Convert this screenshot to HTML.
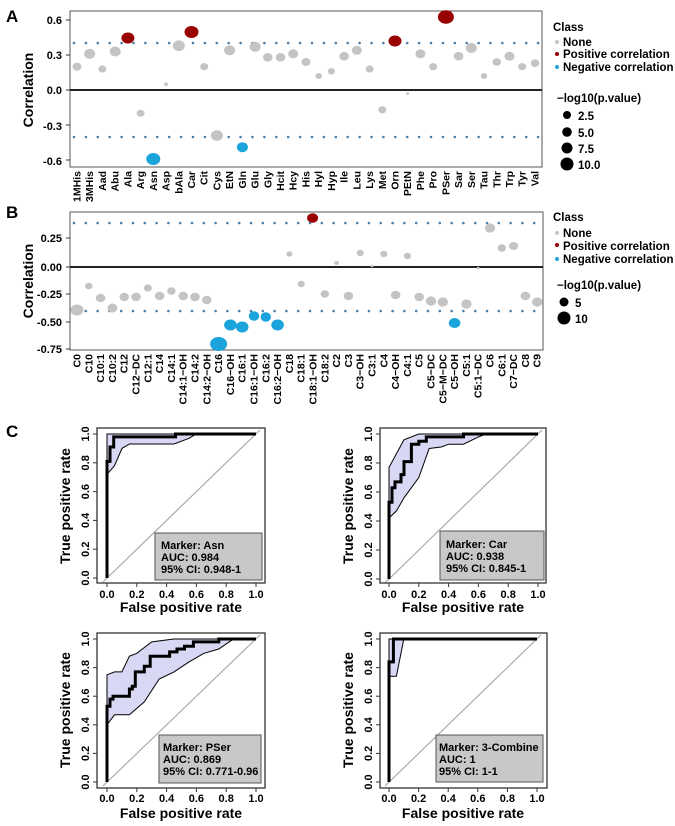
<!DOCTYPE html>
<html><head><meta charset="utf-8"><style>
body{margin:0;background:#fff}
svg{display:block;font-family:"Liberation Sans",Arial,sans-serif;font-weight:bold}
</style></head><body>
<svg width="675" height="826" viewBox="0 0 675 826" xmlns="http://www.w3.org/2000/svg">
<!-- Panel A -->
<text x="6" y="22" font-size="17">A</text>
<rect x="70" y="11" width="472" height="156" fill="none" stroke="#555" stroke-width="1"/>
<line x1="70" y1="90" x2="542" y2="90" stroke="#222" stroke-width="2"/>
<line x1="74" y1="43" x2="540" y2="43" stroke="#4a7ea8" stroke-width="2.6" stroke-linecap="round" stroke-dasharray="0 11.9"/>
<line x1="74" y1="137" x2="540" y2="137" stroke="#4a7ea8" stroke-width="2.6" stroke-linecap="round" stroke-dasharray="0 11.9"/>
<g font-size="11" text-anchor="end">
<text x="62" y="24">0.6</text><text x="62" y="59">0.3</text><text x="62" y="94">0.0</text><text x="62" y="130">-0.3</text><text x="62" y="165">-0.6</text>
</g>
<g stroke="#333"><line x1="66" y1="20" x2="70" y2="20"/><line x1="66" y1="55" x2="70" y2="55"/><line x1="66" y1="90" x2="70" y2="90"/><line x1="66" y1="125" x2="70" y2="125"/><line x1="66" y1="160" x2="70" y2="160"/></g>
<text transform="translate(33,90) rotate(-90)" font-size="14" text-anchor="middle">Correlation</text>
<g fill="#c4c4c4">
<ellipse cx="77" cy="66.7" rx="4.5" ry="4"/><ellipse cx="89.7" cy="53.8" rx="5.5" ry="5"/><ellipse cx="102.4" cy="69" rx="4" ry="3.6"/><ellipse cx="115.2" cy="51.5" rx="5.5" ry="5"/>
<ellipse cx="140.6" cy="113.3" rx="4" ry="3.5"/><ellipse cx="166" cy="84.2" rx="2" ry="1.8"/><ellipse cx="178.8" cy="45.7" rx="6" ry="5.3"/>
<ellipse cx="204.2" cy="66.7" rx="4" ry="3.6"/><ellipse cx="216.9" cy="135.5" rx="6" ry="5.3"/><ellipse cx="229.6" cy="50.3" rx="5.5" ry="5"/>
<ellipse cx="255.1" cy="46.8" rx="5.5" ry="5"/><ellipse cx="267.8" cy="57.3" rx="4.8" ry="4.3"/><ellipse cx="280.5" cy="57.3" rx="4.8" ry="4.3"/><ellipse cx="293.2" cy="53.8" rx="5" ry="4.5"/>
<ellipse cx="306" cy="62" rx="4.5" ry="4"/><ellipse cx="318.7" cy="76" rx="3.3" ry="3"/><ellipse cx="331.4" cy="71.3" rx="3.5" ry="3.2"/><ellipse cx="344.1" cy="56.2" rx="4.8" ry="4.3"/>
<ellipse cx="356.8" cy="50.3" rx="5" ry="4.5"/><ellipse cx="369.6" cy="69" rx="4" ry="3.6"/><ellipse cx="382.3" cy="109.8" rx="4" ry="3.6"/><ellipse cx="407.7" cy="93.5" rx="1.6" ry="1.4"/>
<ellipse cx="420.4" cy="53.8" rx="5" ry="4.5"/><ellipse cx="433.2" cy="66.7" rx="4" ry="3.6"/><ellipse cx="458.6" cy="56.2" rx="4.8" ry="4.3"/><ellipse cx="471.3" cy="48" rx="5.5" ry="5"/>
<ellipse cx="484" cy="76" rx="3.3" ry="3"/><ellipse cx="496.8" cy="62" rx="4.3" ry="3.8"/><ellipse cx="509.5" cy="56.2" rx="5" ry="4.5"/><ellipse cx="522.2" cy="66.7" rx="4" ry="3.6"/><ellipse cx="535" cy="63.2" rx="4.3" ry="3.8"/>
</g>
<g fill="#990000">
<ellipse cx="127.9" cy="38" rx="6.5" ry="5.5"/><ellipse cx="191.5" cy="32" rx="7" ry="6"/><ellipse cx="395" cy="41" rx="6.5" ry="5.5"/><ellipse cx="445.9" cy="17" rx="8" ry="6.8"/>
</g>
<g fill="#1ba3dc">
<ellipse cx="153.3" cy="159" rx="7" ry="6"/><ellipse cx="242.4" cy="147.2" rx="5.5" ry="5"/>
</g>
<g font-size="10.5" text-anchor="end">
<text transform="translate(80.5,171) rotate(-90)">1MHis</text><text transform="translate(93.2,171) rotate(-90)">3MHis</text><text transform="translate(105.9,171) rotate(-90)">Aad</text><text transform="translate(118.7,171) rotate(-90)">Abu</text>
<text transform="translate(131.4,171) rotate(-90)">Ala</text><text transform="translate(144.1,171) rotate(-90)">Arg</text><text transform="translate(156.8,171) rotate(-90)">Asn</text><text transform="translate(169.5,171) rotate(-90)">Asp</text>
<text transform="translate(182.3,171) rotate(-90)">bAla</text><text transform="translate(195,171) rotate(-90)">Car</text><text transform="translate(207.7,171) rotate(-90)">Cit</text><text transform="translate(220.4,171) rotate(-90)">Cys</text>
<text transform="translate(233.1,171) rotate(-90)">EtN</text><text transform="translate(245.9,171) rotate(-90)">Gln</text><text transform="translate(258.6,171) rotate(-90)">Glu</text><text transform="translate(271.3,171) rotate(-90)">Gly</text>
<text transform="translate(284,171) rotate(-90)">Hcit</text><text transform="translate(296.7,171) rotate(-90)">Hcy</text><text transform="translate(309.5,171) rotate(-90)">His</text><text transform="translate(322.2,171) rotate(-90)">Hyl</text>
<text transform="translate(334.9,171) rotate(-90)">Hyp</text><text transform="translate(347.6,171) rotate(-90)">Ile</text><text transform="translate(360.3,171) rotate(-90)">Leu</text><text transform="translate(373.1,171) rotate(-90)">Lys</text>
<text transform="translate(385.8,171) rotate(-90)">Met</text><text transform="translate(398.5,171) rotate(-90)">Orn</text><text transform="translate(411.2,171) rotate(-90)">PEtN</text><text transform="translate(423.9,171) rotate(-90)">Phe</text>
<text transform="translate(436.7,171) rotate(-90)">Pro</text><text transform="translate(449.4,171) rotate(-90)">PSer</text><text transform="translate(462.1,171) rotate(-90)">Sar</text><text transform="translate(474.8,171) rotate(-90)">Ser</text>
<text transform="translate(487.5,171) rotate(-90)">Tau</text><text transform="translate(500.3,171) rotate(-90)">Thr</text><text transform="translate(513,171) rotate(-90)">Trp</text><text transform="translate(525.7,171) rotate(-90)">Tyr</text><text transform="translate(538.5,171) rotate(-90)">Val</text>
</g>
<g font-size="11.5">
<text x="553" y="31">Class</text>
<circle cx="557" cy="42" r="2" fill="#c4c4c4"/><text x="563" y="46">None</text>
<circle cx="557" cy="54" r="2" fill="#990000"/><text x="563" y="58">Positive correlation</text>
<circle cx="557" cy="67" r="2" fill="#1ba3dc"/><text x="563" y="71">Negative correlation</text>
<text x="557" y="102">−log10(p.value)</text>
<circle cx="567" cy="115" r="4" fill="#000"/><text x="578" y="120">2.5</text>
<circle cx="567" cy="132" r="4.8" fill="#000"/><text x="578" y="137">5.0</text>
<circle cx="567" cy="148" r="5.5" fill="#000"/><text x="578" y="153">7.5</text>
<circle cx="567" cy="164" r="6.5" fill="#000"/><text x="578" y="169">10.0</text>
</g>

<!-- Panel B -->
<text x="6" y="218" font-size="17">B</text>
<rect x="70" y="212" width="473" height="138" fill="none" stroke="#555" stroke-width="1"/>
<line x1="70" y1="267" x2="543" y2="267" stroke="#222" stroke-width="2"/>
<line x1="74" y1="223" x2="541" y2="223" stroke="#4a7ea8" stroke-width="2.6" stroke-linecap="round" stroke-dasharray="0 11.8"/>
<line x1="74" y1="311" x2="541" y2="311" stroke="#4a7ea8" stroke-width="2.6" stroke-linecap="round" stroke-dasharray="0 11.8"/>
<g font-size="11" text-anchor="end">
<text x="62" y="242">0.25</text><text x="62" y="271">0.00</text><text x="62" y="298">-0.25</text><text x="62" y="326">-0.50</text><text x="62" y="353">-0.75</text>
</g>
<g stroke="#333"><line x1="66" y1="238" x2="70" y2="238"/><line x1="66" y1="267" x2="70" y2="267"/><line x1="66" y1="294" x2="70" y2="294"/><line x1="66" y1="322" x2="70" y2="322"/><line x1="66" y1="349" x2="70" y2="349"/></g>
<text transform="translate(33,281) rotate(-90)" font-size="14" text-anchor="middle">Correlation</text>
<g fill="#c4c4c4">
<ellipse cx="77" cy="310" rx="6.5" ry="5.5"/><ellipse cx="88.8" cy="286" rx="3.8" ry="3.3"/><ellipse cx="100.6" cy="298" rx="4.8" ry="4.2"/><ellipse cx="112.4" cy="308" rx="5" ry="4.5"/>
<ellipse cx="124.2" cy="297" rx="4.8" ry="4.2"/><ellipse cx="136" cy="297" rx="4.8" ry="4.2"/><ellipse cx="147.8" cy="288" rx="4" ry="3.6"/><ellipse cx="159.6" cy="296" rx="4.8" ry="4.2"/>
<ellipse cx="171.4" cy="291" rx="4.2" ry="3.8"/><ellipse cx="183.2" cy="296" rx="4.8" ry="4.2"/><ellipse cx="195" cy="297" rx="4.8" ry="4.2"/><ellipse cx="206.8" cy="300" rx="4.8" ry="4.2"/>
<ellipse cx="289.4" cy="254" rx="3" ry="2.7"/><ellipse cx="301.2" cy="284" rx="3.6" ry="3.2"/><ellipse cx="324.8" cy="294" rx="4.2" ry="3.8"/><ellipse cx="336.6" cy="263" rx="2.4" ry="2.1"/>
<ellipse cx="348.4" cy="296" rx="4.8" ry="4.2"/><ellipse cx="360.2" cy="253" rx="3.6" ry="3.2"/><ellipse cx="372" cy="266" rx="1.5" ry="1.3"/><ellipse cx="383.8" cy="254" rx="3.6" ry="3.2"/>
<ellipse cx="395.6" cy="295" rx="4.8" ry="4.2"/><ellipse cx="407.4" cy="256" rx="3.6" ry="3.2"/><ellipse cx="419.2" cy="297" rx="4.8" ry="4.2"/><ellipse cx="431" cy="301" rx="5.2" ry="4.6"/>
<ellipse cx="442.8" cy="302" rx="5.2" ry="4.6"/><ellipse cx="466.4" cy="304" rx="5.2" ry="4.6"/><ellipse cx="478.2" cy="268" rx="1.5" ry="1.3"/><ellipse cx="490" cy="228" rx="5.2" ry="4.6"/>
<ellipse cx="501.8" cy="248" rx="4.2" ry="3.8"/><ellipse cx="513.6" cy="246" rx="4.6" ry="4"/><ellipse cx="525.4" cy="296" rx="4.8" ry="4.2"/><ellipse cx="537.2" cy="302" rx="5.2" ry="4.6"/>
</g>
<ellipse cx="312.6" cy="218" rx="5.5" ry="4.8" fill="#990000"/>
<g fill="#1ba3dc">
<ellipse cx="218.6" cy="344" rx="8.5" ry="7"/><ellipse cx="230.4" cy="325" rx="6.3" ry="5.5"/><ellipse cx="242.2" cy="327" rx="6.3" ry="5.5"/><ellipse cx="254" cy="316" rx="5.2" ry="4.7"/>
<ellipse cx="265.8" cy="317" rx="5.2" ry="4.7"/><ellipse cx="277.6" cy="325" rx="6.3" ry="5.5"/><ellipse cx="454.6" cy="323" rx="5.8" ry="5"/>
</g>
<g font-size="10.5" text-anchor="end">
<text transform="translate(80.5,354) rotate(-90)">C0</text><text transform="translate(92.3,354) rotate(-90)">C10</text><text transform="translate(104.1,354) rotate(-90)">C10:1</text><text transform="translate(115.9,354) rotate(-90)">C10:2</text>
<text transform="translate(127.7,354) rotate(-90)">C12</text><text transform="translate(139.5,354) rotate(-90)">C12−DC</text><text transform="translate(151.3,354) rotate(-90)">C12:1</text><text transform="translate(163.1,354) rotate(-90)">C14</text>
<text transform="translate(174.9,354) rotate(-90)">C14:1</text><text transform="translate(186.7,354) rotate(-90)">C14:1−OH</text><text transform="translate(198.5,354) rotate(-90)">C14:2</text><text transform="translate(210.3,354) rotate(-90)">C14:2−OH</text>
<text transform="translate(222.1,354) rotate(-90)">C16</text><text transform="translate(233.9,354) rotate(-90)">C16−OH</text><text transform="translate(245.7,354) rotate(-90)">C16:1</text><text transform="translate(257.5,354) rotate(-90)">C16:1−OH</text>
<text transform="translate(269.3,354) rotate(-90)">C16:2</text><text transform="translate(281.1,354) rotate(-90)">C16:2−OH</text><text transform="translate(292.9,354) rotate(-90)">C18</text><text transform="translate(304.7,354) rotate(-90)">C18:1</text>
<text transform="translate(316.5,354) rotate(-90)">C18:1−OH</text><text transform="translate(328.3,354) rotate(-90)">C18:2</text><text transform="translate(340.1,354) rotate(-90)">C2</text><text transform="translate(351.9,354) rotate(-90)">C3</text>
<text transform="translate(363.7,354) rotate(-90)">C3−OH</text><text transform="translate(375.5,354) rotate(-90)">C3:1</text><text transform="translate(387.3,354) rotate(-90)">C4</text><text transform="translate(399.1,354) rotate(-90)">C4−OH</text>
<text transform="translate(410.9,354) rotate(-90)">C4:1</text><text transform="translate(422.7,354) rotate(-90)">C5</text><text transform="translate(434.5,354) rotate(-90)">C5−DC</text><text transform="translate(446.3,354) rotate(-90)">C5−M−DC</text>
<text transform="translate(458.1,354) rotate(-90)">C5−OH</text><text transform="translate(469.9,354) rotate(-90)">C5:1</text><text transform="translate(481.7,354) rotate(-90)">C5:1−DC</text><text transform="translate(493.5,354) rotate(-90)">C6</text>
<text transform="translate(505.3,354) rotate(-90)">C6:1</text><text transform="translate(517.1,354) rotate(-90)">C7−DC</text><text transform="translate(528.9,354) rotate(-90)">C8</text><text transform="translate(540.7,354) rotate(-90)">C9</text>
</g>
<g font-size="11.5">
<text x="553" y="221">Class</text>
<circle cx="557" cy="233" r="2" fill="#c4c4c4"/><text x="563" y="237">None</text>
<circle cx="557" cy="245" r="2" fill="#990000"/><text x="563" y="250">Positive correlation</text>
<circle cx="557" cy="259" r="2" fill="#1ba3dc"/><text x="563" y="263">Negative correlation</text>
<text x="557" y="289">−log10(p.value)</text>
<circle cx="564" cy="302" r="4.5" fill="#000"/><text x="575" y="307">5</text>
<circle cx="564" cy="318" r="6.5" fill="#000"/><text x="575" y="323">10</text>
</g>

<!-- Panel C -->
<text x="6" y="437" font-size="17">C</text>

<!-- ROC 1 -->
<g>
<polygon points="107,434 256,434 196.4,434 189,438.3 174,444 129.4,444 122,448.4 114.5,465.7 107,474.3" fill="#d8d8f5" stroke="#000" stroke-width="1"/>
<line x1="103" y1="582" x2="260" y2="430" stroke="#aaa" stroke-width="1.2"/>
<polyline points="107,578 107,461.4 110,461.4 110,447 113.7,447 113.7,436.9 175.5,436.9 175.5,434 256,434" fill="none" stroke="#000" stroke-width="3"/>
<rect x="97" y="428" width="168" height="155" fill="none" stroke="#333" stroke-width="1.3"/>
<rect x="155" y="533" width="107" height="47" fill="#c8c8c8" stroke="#555"/>
<text x="161" y="549" font-size="11">Marker: Asn</text><text x="161" y="561" font-size="11">AUC: 0.984</text><text x="161" y="573" font-size="11">95% CI: 0.948-1</text>
<g stroke="#333"><line x1="93" y1="434" x2="97" y2="434"/><line x1="93" y1="462.8" x2="97" y2="462.8"/><line x1="93" y1="491.6" x2="97" y2="491.6"/><line x1="93" y1="520.4" x2="97" y2="520.4"/><line x1="93" y1="549.2" x2="97" y2="549.2"/><line x1="93" y1="578" x2="97" y2="578"/>
<line x1="107" y1="583" x2="107" y2="587"/><line x1="136.8" y1="583" x2="136.8" y2="587"/><line x1="166.6" y1="583" x2="166.6" y2="587"/><line x1="196.4" y1="583" x2="196.4" y2="587"/><line x1="226.2" y1="583" x2="226.2" y2="587"/><line x1="256" y1="583" x2="256" y2="587"/></g>
<g font-size="11" text-anchor="middle">
<text transform="translate(89,434) rotate(-90)">1.0</text><text transform="translate(89,462.8) rotate(-90)">0.8</text><text transform="translate(89,491.6) rotate(-90)">0.6</text><text transform="translate(89,520.4) rotate(-90)">0.4</text><text transform="translate(89,549.2) rotate(-90)">0.2</text><text transform="translate(89,578) rotate(-90)">0.0</text>
<text x="107" y="598">0.0</text><text x="136.8" y="598">0.2</text><text x="166.6" y="598">0.4</text><text x="196.4" y="598">0.6</text><text x="226.2" y="598">0.8</text><text x="256" y="598">1.0</text>
</g>
<text x="181" y="612" font-size="14" text-anchor="middle">False positive rate</text>
<text transform="translate(70,506) rotate(-90)" font-size="14" text-anchor="middle">True positive rate</text>
</g>

<!-- ROC 2 -->
<g>
<polygon points="389,467.4 404,439.8 418.8,434 538,434 485.9,434 478.4,436.9 463.5,444.2 448.6,444.2 441.2,447 429.2,448.5 418.8,477.5 404,497.8 396.5,510.9 389,518" fill="#d8d8f5" stroke="#000" stroke-width="1"/>
<line x1="385" y1="583" x2="542" y2="430" stroke="#aaa" stroke-width="1.2"/>
<polyline points="389,579 389,502.2 392,502.2 392,487.7 395,487.7 395,481.9 401,481.9 401,474.6 404,474.6 404,461.6 411.4,461.6 411.4,444.2 418.8,444.2 418.8,441.3 426.3,441.3 426.3,436.9 463.5,436.9 463.5,434 538,434" fill="none" stroke="#000" stroke-width="3"/>
<rect x="380" y="428" width="166" height="155" fill="none" stroke="#333" stroke-width="1.3"/>
<rect x="440" y="531" width="104" height="49" fill="#c8c8c8" stroke="#555"/>
<text x="446" y="548" font-size="11">Marker: Car</text><text x="446" y="560" font-size="11">AUC: 0.938</text><text x="446" y="572" font-size="11">95% CI: 0.845-1</text>
<g stroke="#333"><line x1="376" y1="434" x2="380" y2="434"/><line x1="376" y1="463" x2="380" y2="463"/><line x1="376" y1="492" x2="380" y2="492"/><line x1="376" y1="521" x2="380" y2="521"/><line x1="376" y1="550" x2="380" y2="550"/><line x1="376" y1="579" x2="380" y2="579"/>
<line x1="389" y1="583" x2="389" y2="587"/><line x1="418.8" y1="583" x2="418.8" y2="587"/><line x1="448.6" y1="583" x2="448.6" y2="587"/><line x1="478.4" y1="583" x2="478.4" y2="587"/><line x1="508.2" y1="583" x2="508.2" y2="587"/><line x1="538" y1="583" x2="538" y2="587"/></g>
<g font-size="11" text-anchor="middle">
<text transform="translate(372,434) rotate(-90)">1.0</text><text transform="translate(372,463) rotate(-90)">0.8</text><text transform="translate(372,492) rotate(-90)">0.6</text><text transform="translate(372,521) rotate(-90)">0.4</text><text transform="translate(372,550) rotate(-90)">0.2</text><text transform="translate(372,579) rotate(-90)">0.0</text>
<text x="389" y="598">0.0</text><text x="418.8" y="598">0.2</text><text x="448.6" y="598">0.4</text><text x="478.4" y="598">0.6</text><text x="508.2" y="598">0.8</text><text x="538" y="598">1.0</text>
</g>
<text x="463" y="612" font-size="14" text-anchor="middle">False positive rate</text>
<text transform="translate(353,506) rotate(-90)" font-size="14" text-anchor="middle">True positive rate</text>
</g>

<!-- ROC 3 -->
<g>
<polygon points="107,674.8 114.5,671.9 121.9,671.9 129.4,656.2 136.8,653.3 151.7,641.9 174,639 256,639 233.7,639 229.2,641.9 218.8,649 203.9,653.3 189,661.9 174,671.9 159.2,679 144.3,701.9 129.4,714.8 114.5,714.8 107,724.8" fill="#d8d8f5" stroke="#000" stroke-width="1"/>
<line x1="103" y1="786" x2="260" y2="635" stroke="#aaa" stroke-width="1.2"/>
<polyline points="107,782 107,706.2 110,706.2 110,699.1 113,699.1 113,696.2 129.4,696.2 129.4,689 132.3,689 132.3,686.2 135.3,686.2 135.3,671.9 144.3,671.9 144.3,666.2 150.2,666.2 150.2,656.2 169.6,656.2 169.6,651.9 177,651.9 177,649 184.5,649 184.5,646.2 193.4,646.2 193.4,641.9 218.8,641.9 218.8,639 256,639" fill="none" stroke="#000" stroke-width="3"/>
<rect x="97" y="633" width="168" height="155" fill="none" stroke="#333" stroke-width="1.3"/>
<rect x="159" y="735" width="102" height="48" fill="#c8c8c8" stroke="#555"/>
<text x="163" y="751" font-size="11">Marker: PSer</text><text x="163" y="763" font-size="11">AUC: 0.869</text><text x="163" y="775" font-size="11">95% CI: 0.771-0.96</text>
<g stroke="#333"><line x1="93" y1="639" x2="97" y2="639"/><line x1="93" y1="667.6" x2="97" y2="667.6"/><line x1="93" y1="696.2" x2="97" y2="696.2"/><line x1="93" y1="724.8" x2="97" y2="724.8"/><line x1="93" y1="753.4" x2="97" y2="753.4"/><line x1="93" y1="782" x2="97" y2="782"/>
<line x1="107" y1="788" x2="107" y2="792"/><line x1="136.8" y1="788" x2="136.8" y2="792"/><line x1="166.6" y1="788" x2="166.6" y2="792"/><line x1="196.4" y1="788" x2="196.4" y2="792"/><line x1="226.2" y1="788" x2="226.2" y2="792"/><line x1="256" y1="788" x2="256" y2="792"/></g>
<g font-size="11" text-anchor="middle">
<text transform="translate(89,639) rotate(-90)">1.0</text><text transform="translate(89,667.6) rotate(-90)">0.8</text><text transform="translate(89,696.2) rotate(-90)">0.6</text><text transform="translate(89,724.8) rotate(-90)">0.4</text><text transform="translate(89,753.4) rotate(-90)">0.2</text><text transform="translate(89,782) rotate(-90)">0.0</text>
<text x="107" y="802">0.0</text><text x="136.8" y="802">0.2</text><text x="166.6" y="802">0.4</text><text x="196.4" y="802">0.6</text><text x="226.2" y="802">0.8</text><text x="256" y="802">1.0</text>
</g>
<text x="181" y="818" font-size="14" text-anchor="middle">False positive rate</text>
<text transform="translate(70,710) rotate(-90)" font-size="14" text-anchor="middle">True positive rate</text>
</g>

<!-- ROC 4 -->
<g>
<polygon points="389,639 537,639 403.8,639 396.4,676.2 389,676.2" fill="#d8d8f5" stroke="#000" stroke-width="1"/>
<line x1="385" y1="786" x2="541" y2="635" stroke="#aaa" stroke-width="1.2"/>
<polyline points="389,782 389,661.9 393.4,661.9 393.4,639 537,639" fill="none" stroke="#000" stroke-width="3"/>
<rect x="380" y="633" width="167" height="155" fill="none" stroke="#333" stroke-width="1.3"/>
<rect x="436" y="735" width="107" height="47" fill="#c8c8c8" stroke="#555"/>
<text x="439" y="751" font-size="11">Marker: 3-Combine</text><text x="439" y="763" font-size="11">AUC: 1</text><text x="439" y="775" font-size="11">95% CI: 1-1</text>
<g stroke="#333"><line x1="376" y1="639" x2="380" y2="639"/><line x1="376" y1="667.6" x2="380" y2="667.6"/><line x1="376" y1="696.2" x2="380" y2="696.2"/><line x1="376" y1="724.8" x2="380" y2="724.8"/><line x1="376" y1="753.4" x2="380" y2="753.4"/><line x1="376" y1="782" x2="380" y2="782"/>
<line x1="389" y1="788" x2="389" y2="792"/><line x1="418.6" y1="788" x2="418.6" y2="792"/><line x1="448.2" y1="788" x2="448.2" y2="792"/><line x1="477.8" y1="788" x2="477.8" y2="792"/><line x1="507.4" y1="788" x2="507.4" y2="792"/><line x1="537" y1="788" x2="537" y2="792"/></g>
<g font-size="11" text-anchor="middle">
<text transform="translate(372,639) rotate(-90)">1.0</text><text transform="translate(372,667.6) rotate(-90)">0.8</text><text transform="translate(372,696.2) rotate(-90)">0.6</text><text transform="translate(372,724.8) rotate(-90)">0.4</text><text transform="translate(372,753.4) rotate(-90)">0.2</text><text transform="translate(372,782) rotate(-90)">0.0</text>
<text x="389" y="802">0.0</text><text x="418.6" y="802">0.2</text><text x="448.2" y="802">0.4</text><text x="477.8" y="802">0.6</text><text x="507.4" y="802">0.8</text><text x="537" y="802">1.0</text>
</g>
<text x="463" y="818" font-size="14" text-anchor="middle">False positive rate</text>
<text transform="translate(353,710) rotate(-90)" font-size="14" text-anchor="middle">True positive rate</text>
</g>
</svg>
</body></html>
